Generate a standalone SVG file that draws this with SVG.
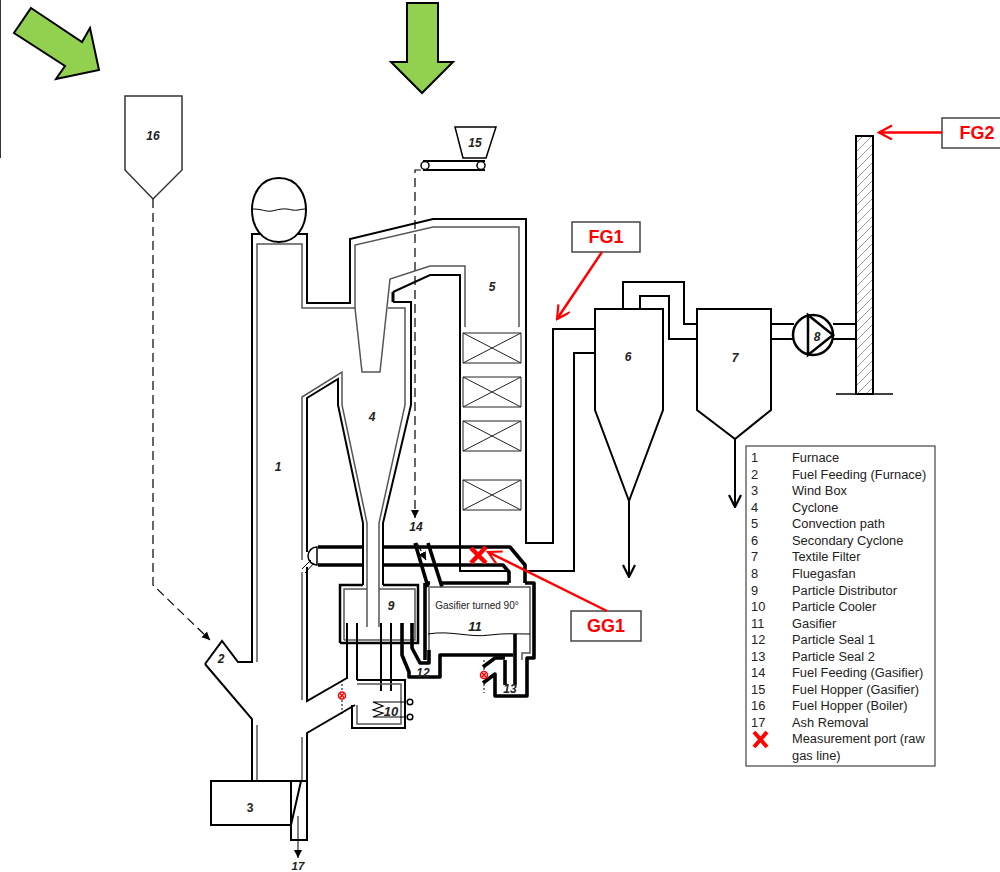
<svg xmlns="http://www.w3.org/2000/svg" width="1000" height="872" viewBox="0 0 1000 872">
<style>
text{font-family:"Liberation Sans",Arial,sans-serif;fill:#222}
.n{font-size:12px;font-weight:bold;font-style:italic;text-anchor:middle}
.l{font-size:12.850px;fill:#222}
.k{fill:none;stroke:#000;stroke-width:2}
.t{fill:none;stroke:#000;stroke-width:3.600;stroke-linejoin:round}
.m{fill:none;stroke:#000;stroke-width:3}
.g{fill:none;stroke:#555;stroke-width:1.500}
.s{fill:none;stroke:#000;stroke-width:1}
.d{fill:none;stroke:#000;stroke-width:1.200;stroke-dasharray:9 5}
.dot{fill:none;stroke:#000;stroke-width:1;stroke-dasharray:2 2}
.r{fill:none;stroke:#f00;stroke-width:2.500}
.box{fill:#fff;stroke:#444;stroke-width:1.500}
.lab{font-size:18px;font-weight:bold;fill:#f00;text-anchor:middle}
.green{fill:#92d050;stroke:#000;stroke-width:2}
.port{fill:#fff;stroke:#f00;stroke-width:1.500}
</style>
<defs>
<pattern id="hatch" width="9" height="9" patternUnits="userSpaceOnUse">
<path d="M-2 11L11 -2M-6.500 6.500L6.500 -6.500M2.500 15.500L15.500 2.500" stroke="#999" stroke-width="1" fill="none"/>
</pattern>
<marker id="af" markerWidth="10" markerHeight="10" refX="8" refY="4" orient="auto" markerUnits="userSpaceOnUse"><path d="M0 0L8 4L0 8Z" fill="#000"/></marker>
<marker id="ar" markerWidth="16" markerHeight="16" refX="14" refY="7" orient="auto" markerUnits="userSpaceOnUse"><path d="M1 0L14 7L1 14" fill="none" stroke="#f00" stroke-width="2.200"/></marker>
<marker id="ab" markerWidth="14" markerHeight="16" refX="13" refY="7" orient="auto" markerUnits="userSpaceOnUse"><path d="M1 1L13 7L1 13" fill="none" stroke="#000" stroke-width="2.200"/></marker>
</defs>
<rect x="0" y="0" width="1" height="158" fill="#333"/>
<g id="arrows-green">
<path class="green" d="M31 8L82 42L90 28L99 70L56 79L65 66L14 33Z"/>
<path class="green" d="M407 3H438V62H453L422 93L391 62H407Z"/>
</g>
<g id="connectors">
<path class="d" d="M153 199V585L210 640" marker-end="url(#af)"/>
<path class="d" d="M421 170H415V518" marker-end="url(#af)"/>
<path class="d" d="M417 543L426 560" marker-end="url(#af)"/>
<path class="k" d="M629 501V577" marker-end="url(#ab)"/>
<path class="k" d="M735 439V507" marker-end="url(#ab)"/>
<path class="s" d="M298 816V858" marker-end="url(#af)"/>
<path class="k" d="M623 309V282H684V324H697M640 309V296H669V339H697"/>
<path class="k" d="M771 324H794M771 339H794M833 324H856M833 339H856"/>
</g>
<g id="n16"><path class="box" style="stroke:#333" d="M125 96H182V170L153 199L125 170Z"/><text class="n" x="153" y="140">16</text></g>
<g id="n15">
<path class="k" style="stroke-width:1.500" d="M455 127H496L486 158H463Z"/>
<path class="k" d="M423 161H485M423 170H485"/>
<circle class="k" style="stroke-width:1.500;fill:#fff" cx="425" cy="165.500" r="4"/>
<circle class="k" style="stroke-width:1.500;fill:#fff" cx="481" cy="165.500" r="4"/>
<text class="n" x="475" y="147">15</text>
</g>
<g id="n1-furnace">
<path class="k" d="M252 663V234H307V303H350V239L433 219H526V543H553V329H595"/>
<path class="g" d="M257 662V244H302V308H355V245L433 227H519V327"/>
<path class="g" d="M355 308L362 372H380L390 279L430 266H465V327"/>
<path class="g" d="M388 308H405V405L379 523V627"/>
<path class="k" d="M393 292L430 275H460V571H507"/>
<path class="m" d="M393 302V292"/>
<path class="k" d="M393 302H411V405L383 523V585"/>
<path class="g" d="M302 560V397L342 372V405L367 523V627"/>
<path class="k" d="M307 552V398L338 379V405L363 523V585"/>
<path class="g" d="M302 572V700"/>
<path class="k" d="M307 567V701L347 678"/>
<path class="k" d="M205 664L222 641L238 662H252M205 664L252 719V781"/>
<path class="g" d="M257 725V781"/>
<path class="k" d="M355 705L307 733V781"/>
<path class="g" d="M302 737V781"/>
<text class="n" x="278" y="471">1</text>
<text class="n" x="221" y="663">2</text>
<text class="n" x="372" y="421">4</text>
<text class="n" x="492" y="291">5</text>
</g>
<g id="drum">
<path d="M279 178C298 178 306 195 306 210C306 226 297 242 279 242C261 242 252 226 252 210C252 195 260 178 279 178Z" fill="#fff" stroke="#000" stroke-width="2"/>
<path class="s" d="M253 209C262 209 266 212 272 211C280 209 285 208 292 210C297 211 301 209 305 209"/>
</g>
<g id="n3">
<path class="k" d="M307 781H211V825H291M291 781V840H307V781M291 825L301 781"/>
<text class="n" x="250" y="812" style="font-style:normal">3</text>
<text class="n" x="298" y="870" style="font-size:11.500px">17</text>
</g>
<g id="n5-boxes">
<path class="s" style="stroke:#222" d="M463 333H521V363H463ZM463 333L521 363M521 333L463 363M463 377H521V407H463ZM463 377L521 407M521 377L463 407M463 421H521V451H463ZM463 421L521 451M521 421L463 451M463 480H521V510H463ZM463 480L521 510M521 480L463 510"/>
</g>
<g id="n6">
<path class="k" d="M526 571H574V353H595M595 309H663V410L629 501L595 410Z"/>
<text class="n" x="628" y="361">6</text>
</g>
<g id="n7"><path class="k" d="M697 309H771V410L735 439L697 410Z"/><text class="n" x="735" y="362">7</text></g>
<g id="n8">
<circle class="k" style="stroke-width:2.500;fill:#fff" cx="813" cy="335" r="20"/>
<path class="k" style="stroke-width:2.500" d="M808 315L833 335L808 355Z"/>
<text class="n" x="817" y="341">8</text>
</g>
<g id="chimney">
<rect x="856" y="136" width="17" height="258" fill="url(#hatch)" stroke="#000" stroke-width="2"/>
<path class="k" style="stroke-width:1.500" d="M836 394H893"/>
</g>
<g id="pipes">
<path class="t" d="M318 547H363M383 547H510L525 565V583M318 565H363M383 565H503L509 572V583"/>
<path d="M317 547A9 9 0 1 0 317 565Z" fill="#fff" stroke="#000" stroke-width="1.500"/>
<path class="s" d="M302 569L311 560M305 573L314 563"/>
<path class="t" d="M415 543L428 587M428 543L442 587"/>
</g>
<g id="n9">
<path class="k" d="M340 643V585H363M383 585H418V643H340" style="stroke-width:2.500"/>
<path class="g" d="M344 640V589H367M379 589H415V640H344"/>
<path class="k" d="M347 623V679M357 623V680M381 623V691M391 623V691"/>
<text class="n" x="391" y="610">9</text>
</g>
<g id="n10">
<path class="k" d="M357 680H405V728H352V705"/>
<path class="g" d="M357 705V724H401V684H357"/>
<path class="s" style="stroke-width:1.200" d="M405 702H373L383 706L373 710L383 713L373 717H405"/>
<circle cx="410" cy="702" r="2.800" fill="#fff" stroke="#000" stroke-width="1.500"/>
<circle cx="410" cy="717" r="2.800" fill="#fff" stroke="#000" stroke-width="1.500"/>
<text class="n" style="font-size:13px" x="391" y="716">10</text>
</g>
<g id="n11">
<path class="g" d="M430 587H530V653H522V660M429 587V655"/>
<path class="t" d="M426 583H430M442 583H509M525 583H534V658H527V696H495V674L483 683"/>
<path class="t" d="M425 583V660"/>
<path class="s" d="M428 634C450 630 470 638 490 635C505 633 515 634 530 634"/>
<text x="477" y="609" font-size="10px" text-anchor="middle" fill="#333">Gasifier turned 90°</text>
<text class="n" x="475" y="631" style="font-size:13px">11</text>
</g>
<g id="n12">
<path class="t" d="M402 623V655L409 672V677H440V655H513"/>
<path class="t" d="M412 623V648L420 663H429V650"/>
<text class="n" x="423" y="677">12</text>
</g>
<g id="n13">
<path class="t" d="M515 634V685M505 660V685M483 667L495 658H505"/>
<text class="n" x="510" y="693">13</text>
</g>
<g id="n14"><text class="n" x="416" y="531">14</text></g>
<g id="ports">
<path class="dot" d="M342 680V715"/>
<circle class="port" cx="342" cy="695.500" r="3.500"/><path class="port" d="M340 693.500L344 697.500M344 693.500L340 697.500"/>
<path class="dot" d="M484 660V693"/>
<circle class="port" cx="484" cy="675" r="3.500"/><path class="port" d="M482 673L486 677M486 673L482 677"/>
<path d="M471 563L486 547M471 548L486 563" fill="none" stroke="#f00" stroke-width="4.500"/>
</g>
<g id="FG1"><rect class="box" x="572" y="222" width="68" height="30"/><text class="lab" x="606" y="243">FG1</text><path class="r" d="M602 252L557 319" marker-end="url(#ar)"/></g>
<g id="FG2"><rect class="box" x="942" y="118" width="60" height="30"/><text class="lab" x="977" y="139">FG2</text><path class="r" d="M942 132.500H879" marker-end="url(#ar)"/></g>
<g id="GG1"><rect class="box" x="571" y="611" width="70" height="30"/><text class="lab" x="606" y="632">GG1</text><path class="r" d="M607 611L488 552" marker-end="url(#ar)"/></g>
<g id="legend">
<rect x="746" y="446" width="189" height="320" fill="#fff" stroke="#444" stroke-width="1.200"/>
<g>
<text class="l" x="751" y="462">1</text><text class="l" x="792" y="462">Furnace</text>
<text class="l" x="751" y="479">2</text><text class="l" x="792" y="479">Fuel Feeding (Furnace)</text>
<text class="l" x="751" y="495">3</text><text class="l" x="792" y="495">Wind Box</text>
<text class="l" x="751" y="512">4</text><text class="l" x="792" y="512">Cyclone</text>
<text class="l" x="751" y="528">5</text><text class="l" x="792" y="528">Convection path</text>
<text class="l" x="751" y="545">6</text><text class="l" x="792" y="545">Secondary Cyclone</text>
<text class="l" x="751" y="561">7</text><text class="l" x="792" y="561">Textile Filter</text>
<text class="l" x="751" y="578">8</text><text class="l" x="792" y="578">Fluegasfan</text>
<text class="l" x="751" y="595">9</text><text class="l" x="792" y="595">Particle Distributor</text>
<text class="l" x="751" y="611">10</text><text class="l" x="792" y="611">Particle Cooler</text>
<text class="l" x="751" y="628">11</text><text class="l" x="792" y="628">Gasifier</text>
<text class="l" x="751" y="644">12</text><text class="l" x="792" y="644">Particle Seal 1</text>
<text class="l" x="751" y="661">13</text><text class="l" x="792" y="661">Particle Seal 2</text>
<text class="l" x="751" y="677">14</text><text class="l" x="792" y="677">Fuel Feeding (Gasifier)</text>
<text class="l" x="751" y="694">15</text><text class="l" x="792" y="694">Fuel Hopper (Gasifier)</text>
<text class="l" x="751" y="710">16</text><text class="l" x="792" y="710">Fuel Hopper (Boiler)</text>
<text class="l" x="751" y="727">17</text><text class="l" x="792" y="727">Ash Removal</text>
<text class="l" x="792" y="743">Measurement port (raw</text>
<text class="l" x="792" y="760">gas line)</text>
</g>
<path d="M754 732L767 747M767 732L754 747" stroke="#f00" stroke-width="4" fill="none"/>
</g>
</svg>
